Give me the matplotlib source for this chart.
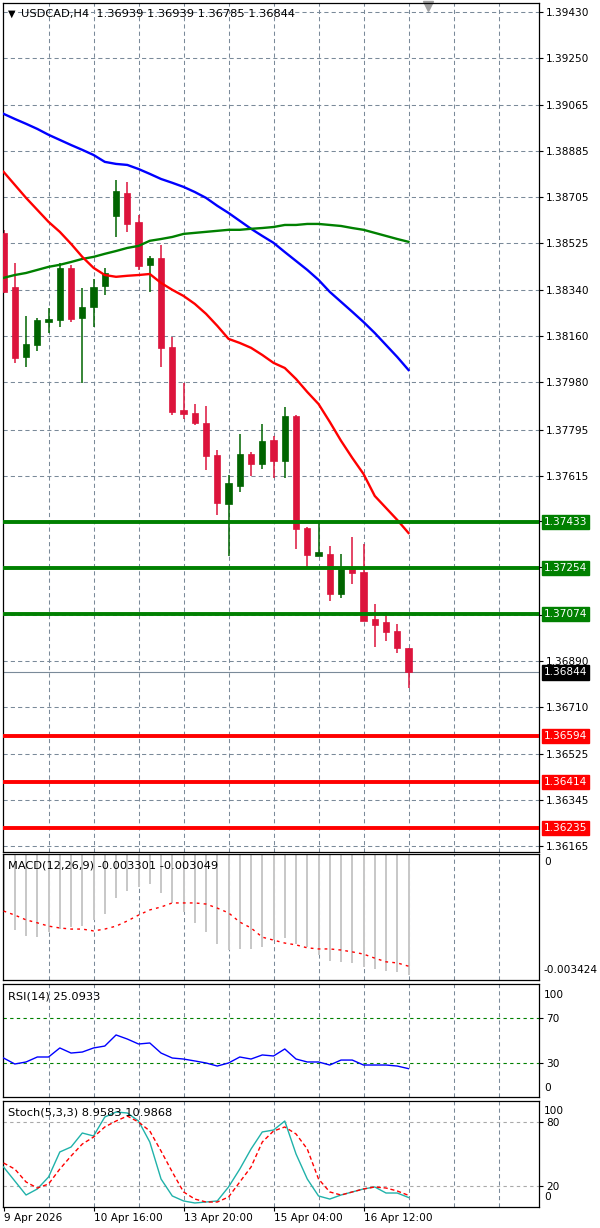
import matplotlib
matplotlib.use('Agg')
import matplotlib.pyplot as plt
import matplotlib.transforms as mtransforms
import numpy as np

plt.rcParams['font.family'] = ['DejaVu Sans']

# H4 candles, oldest first
opens = [1.38565, 1.38353, 1.38079, 1.38126, 1.38216, 1.38224, 1.38428, 1.38232, 1.38275, 1.38357,
         1.38631, 1.38721, 1.38608, 1.38440, 1.38467, 1.38119, 1.37872, 1.37860, 1.37821, 1.37696,
         1.37504, 1.37574, 1.37700, 1.37660, 1.37754, 1.37672, 1.37848, 1.37410, 1.37300, 1.37308,
         1.37152, 1.37249, 1.37238, 1.37054, 1.37042, 1.37007, 1.36939]
highs = [1.38577, 1.38447, 1.38240, 1.38232, 1.38271, 1.38447, 1.38440, 1.38349, 1.38385, 1.38428,
         1.38772, 1.38764, 1.38635, 1.38475, 1.38518, 1.38158, 1.37978, 1.37895, 1.37887, 1.37715,
         1.37617, 1.37778, 1.37707, 1.37817, 1.37770, 1.37884, 1.37852, 1.37414, 1.37429, 1.37339,
         1.37308, 1.37375, 1.37347, 1.37112, 1.37081, 1.37034, 1.36939]
lows = [1.38330, 1.38056, 1.38040, 1.38103, 1.38173, 1.38197, 1.38216, 1.37978, 1.38197, 1.38322,
        1.38549, 1.38569, 1.38420, 1.38334, 1.38040, 1.37852, 1.37837, 1.37813, 1.37637, 1.37461,
        1.37300, 1.37551, 1.37613, 1.37641, 1.37606, 1.37606, 1.37328, 1.37257, 1.37300, 1.37124,
        1.37136, 1.37191, 1.37046, 1.36944, 1.36967, 1.36920, 1.36785]
closes = [1.38334, 1.38075, 1.38130, 1.38224, 1.38228, 1.38428, 1.38228, 1.38275, 1.38353, 1.38408,
          1.38729, 1.38600, 1.38436, 1.38467, 1.38115, 1.37864, 1.37856, 1.37821, 1.37692, 1.37508,
          1.37586, 1.37700, 1.37660, 1.37750, 1.37672, 1.37848, 1.37406, 1.37304, 1.37316, 1.37152,
          1.37249, 1.37234, 1.37046, 1.37030, 1.37003, 1.36940, 1.36844]

# moving averages
ma_red = [1.38804, 1.38753, 1.38702, 1.38655, 1.38608, 1.38569, 1.38522, 1.38471, 1.38428, 1.38400,
          1.38393, 1.38397, 1.38400, 1.38404, 1.38369, 1.38342, 1.38318, 1.38287, 1.38248, 1.38201,
          1.38150, 1.38134, 1.38115, 1.38087, 1.38056, 1.38036, 1.37993, 1.37942, 1.37895, 1.37825,
          1.37751, 1.37684, 1.37621, 1.37535, 1.37488, 1.37441, 1.37390]
ma_blue = [1.39031, 1.39011, 1.38992, 1.38972, 1.38949, 1.38929, 1.38909, 1.38890, 1.38870, 1.38843,
           1.38835, 1.38831, 1.38815, 1.38796, 1.38776, 1.38761, 1.38745, 1.38725, 1.38702, 1.38671,
           1.38643, 1.38612, 1.38581, 1.38553, 1.38526, 1.38490, 1.38455, 1.38420, 1.38381, 1.38334,
           1.38295, 1.38256, 1.38216, 1.38173, 1.38126, 1.38079, 1.38028]
ma_green = [1.38389, 1.38400, 1.38408, 1.38420, 1.38432, 1.38440, 1.38451, 1.38463, 1.38471, 1.38483,
            1.38494, 1.38506, 1.38514, 1.38534, 1.38541, 1.38549, 1.38561, 1.38565, 1.38569, 1.38573,
            1.38577, 1.38577, 1.38581, 1.38584, 1.38588, 1.38596, 1.38596, 1.38600, 1.38600, 1.38596,
            1.38592, 1.38584, 1.38577, 1.38565, 1.38553, 1.38541, 1.38530]

# indicators
macd_main = [-0.00158, -0.00206, -0.00223, -0.00226, -0.00212, -0.00204, -0.00198, -0.00196, -0.00179, -0.00163,
             -0.00120, -0.00101, -0.00090, -0.00082, -0.00106, -0.00133, -0.00158, -0.00187, -0.00212, -0.00245,
             -0.00261, -0.00258, -0.00258, -0.00253, -0.00234, -0.00228, -0.00245, -0.00253, -0.00274, -0.00291,
             -0.00293, -0.00296, -0.00307, -0.00312, -0.00318, -0.00321, -0.003301]
macd_signal = [-0.00155, -0.00166, -0.00179, -0.00187, -0.00196, -0.00201, -0.00204, -0.00204, -0.00209, -0.00204,
               -0.00196, -0.00182, -0.00166, -0.00152, -0.00144, -0.00133, -0.00133, -0.00133, -0.00136, -0.00147,
               -0.00160, -0.00185, -0.00201, -0.00226, -0.00234, -0.00242, -0.00247, -0.00255, -0.00258, -0.00258,
               -0.00261, -0.00266, -0.00272, -0.00283, -0.00293, -0.00296, -0.003049]
macd_min = -0.003424
rsi = [34.5, 29.2, 31.0, 35.4, 35.4, 43.4, 38.9, 39.8, 43.4, 45.1,
       54.9, 51.3, 46.9, 47.8, 38.9, 34.5, 33.6, 31.9, 30.1, 27.4,
       30.1, 35.4, 33.6, 37.2, 36.3, 42.5, 33.6, 31.0, 31.0, 28.3,
       32.7, 32.7, 28.3, 28.3, 28.3, 27.4, 25.0933]
stoch_main = [37.7, 24.5, 11.3, 17.0, 28.3, 51.9, 56.6, 69.8, 67.0, 84.9,
              89.6, 88.7, 81.1, 61.3, 26.4, 10.4, 5.7, 3.8, 4.7, 5.7,
              18.9, 35.8, 54.7, 70.8, 72.6, 81.1, 50.0, 26.4, 10.4, 7.5,
              11.3, 14.2, 17.0, 18.9, 13.2, 13.2, 8.9583]
stoch_signal = [41.5, 35.8, 23.6, 17.9, 21.7, 35.8, 48.1, 59.4, 66.0, 75.5,
                81.1, 85.8, 80.2, 71.7, 52.8, 33.0, 14.2, 7.5, 4.7, 4.7,
                9.4, 23.6, 37.7, 61.3, 71.7, 75.5, 68.9, 54.7, 26.4, 14.2,
                11.3, 14.2, 17.0, 18.9, 17.9, 15.1, 10.9868]

res_levels = [1.37433, 1.37254, 1.37074]
sup_levels = [1.36594, 1.36414, 1.36235]
price_ticks = [1.39430, 1.39250, 1.39065, 1.38885, 1.38705, 1.38525, 1.38340, 1.38160, 1.37980,
               1.37795, 1.37615, 1.37435, 1.37255, 1.37070, 1.36890, 1.36710, 1.36525, 1.36345, 1.36165]
date_labels = ['9 Apr 2026', '10 Apr 16:00', '13 Apr 20:00', '15 Apr 04:00', '16 Apr 12:00']
date_bars = [0, 8, 16, 24, 32]

BULL, BEAR = '#006400', '#DC143C'
GRID = '#7A8A99'
FS = 7.6
HFS = 8.2

fig = plt.figure(figsize=(6, 12.28), dpi=100)
L, W = 3 / 600, 536 / 600
H = 1228


def panel(top, bottom):
    return fig.add_axes([L, (H - bottom) / H, W, (bottom - top) / H])


ax = panel(3, 852)
ax_macd = panel(854, 980)
ax_rsi = panel(984, 1097)
ax_sto = panel(1101, 1207)
axes = [ax, ax_macd, ax_rsi, ax_sto]

idx = np.arange(len(closes))
for a in axes:
    a.set_xlim(-0.05, 47.6)
    for gx in range(4, 48, 4):
        a.axvline(gx, color=GRID, lw=0.75, ls=(0, (4, 3)), zorder=0)
    for s in a.spines.values():
        s.set_color('black')
        s.set_linewidth(0.9)
    a.tick_params(axis='x', bottom=False, labelbottom=False)

# main price panel
ax.set_ylim(1.36141, 1.39465)
for t in price_ticks:
    ax.axhline(t, color=GRID, lw=0.75, ls=(0, (4, 3)), zorder=0)
levels = res_levels + sup_levels
tick_text = ['' if min(abs(t - lv) for lv in levels) < 0.00008 else f'{t:.5f}' for t in price_ticks]
ax.set_yticks(price_ticks)
ax.set_yticklabels(tick_text)
ax.yaxis.tick_right()
ax.tick_params(axis='y', length=3, pad=2, labelsize=FS, width=0.8)

o, h, l, c = map(np.array, (opens, highs, lows, closes))
cols = np.where(c >= o, BULL, BEAR)
ax.vlines(idx, l, h, colors=cols, lw=1.1, zorder=2)
body = np.maximum(np.abs(c - o), 0.00007)
ax.bar(idx, body, bottom=np.minimum(o, c), width=0.55, color=cols, edgecolor=cols, lw=0.5, zorder=3)

ax.plot(idx, ma_blue, color='#0000FF', lw=1.7, zorder=4)
ax.plot(idx, ma_green, color='#008000', lw=1.7, zorder=4)
ax.plot(idx, ma_red, color='#FF0000', lw=1.7, zorder=4)

ax.axhline(closes[-1], color=GRID, lw=0.8, zorder=1)
yblend = mtransforms.blended_transform_factory(ax.transAxes, ax.transData)
for lv in res_levels:
    ax.axhline(lv, color='#008000', lw=2.8, zorder=5)
for lv in sup_levels:
    ax.axhline(lv, color='#FF0000', lw=2.8, zorder=5)
for lv, col in [(v, '#008000') for v in res_levels] + [(v, '#FF0000') for v in sup_levels] + [(closes[-1], 'black')]:
    ax.text(1.009, lv, f'{lv:.5f}', transform=yblend, va='center', ha='left', color='white', fontsize=FS,
            bbox=dict(boxstyle='square,pad=0.2', fc=col, ec=col), clip_on=False, zorder=6)

ax.text(0.009, 0.9875, '\u25BC', transform=ax.transAxes, fontsize=7, va='center', ha='left')
ax.text(0.033, 0.9875, f'USDCAD,H4  {opens[-1]:.5f} {highs[-1]:.5f} {lows[-1]:.5f} {closes[-1]:.5f}',
        transform=ax.transAxes, fontsize=HFS, va='center', ha='left')
ax.plot([0.793], [0.996], marker='v', color='#A0A0A0', markersize=7, transform=ax.transAxes, clip_on=False)

# MACD
ax_macd.set_ylim(macd_min, 0.0)
ax_macd.bar(idx, macd_main, width=0.18, color='#C8C8C8', zorder=2)
ax_macd.plot(idx, macd_signal, color='#FF0000', lw=1.0, ls=(0, (2, 3)), zorder=3)
ax_macd.set_yticks([])
ax_macd.text(0.01, 0.905, f'MACD(12,26,9) {macd_main[-1]:.6f} {macd_signal[-1]:.6f}',
             transform=ax_macd.transAxes, fontsize=HFS, va='center')
ax_macd.text(1.009, 0.937, '0', transform=ax_macd.transAxes, fontsize=FS, va='center')
ax_macd.text(1.009, 0.079, f'{macd_min:.6f}', transform=ax_macd.transAxes, fontsize=FS, va='center')

# RSI
ax_rsi.set_ylim(0, 100)
for lv in (70, 30):
    ax_rsi.axhline(lv, color='#008000', lw=0.8, ls=(0, (3, 3)), zorder=1)
ax_rsi.plot(idx, rsi, color='#0000FF', lw=1.0, zorder=3)
ax_rsi.yaxis.tick_right()
ax_rsi.set_yticks([70, 30])
ax_rsi.tick_params(axis='y', length=3, pad=2, labelsize=FS, width=0.8)
ax_rsi.text(0.01, 0.885, f'RSI(14) {rsi[-1]:.4f}', transform=ax_rsi.transAxes, fontsize=HFS, va='center')
ax_rsi.text(1.009, 0.903, '100', transform=ax_rsi.transAxes, fontsize=FS, va='center')
ax_rsi.text(1.009, 0.080, '0', transform=ax_rsi.transAxes, fontsize=FS, va='center')

# Stochastic
ax_sto.set_ylim(0, 100)
for lv in (80, 20):
    ax_sto.axhline(lv, color='#A9A9A9', lw=0.8, ls=(0, (3, 3)), zorder=1)
ax_sto.plot(idx, stoch_main, color='#20B2AA', lw=1.0, zorder=3)
ax_sto.plot(idx, stoch_signal, color='#FF0000', lw=1.0, ls=(0, (3, 2)), zorder=3)
ax_sto.yaxis.tick_right()
ax_sto.set_yticks([80, 20])
ax_sto.tick_params(axis='y', length=3, pad=2, labelsize=FS, width=0.8)
ax_sto.text(0.01, 0.896, f'Stoch(5,3,3) {stoch_main[-1]:.4f} {stoch_signal[-1]:.4f}',
            transform=ax_sto.transAxes, fontsize=HFS, va='center')
ax_sto.text(1.009, 0.906, '100', transform=ax_sto.transAxes, fontsize=FS, va='center')
ax_sto.text(1.009, 0.094, '0', transform=ax_sto.transAxes, fontsize=FS, va='center')

ax_sto.set_xticks(date_bars)
ax_sto.set_xticklabels(date_labels, ha='left')
ax_sto.tick_params(axis='x', bottom=True, labelbottom=True, length=3, pad=1, labelsize=FS, width=0.8)

fig.savefig('out.png', dpi=100, facecolor='white')
